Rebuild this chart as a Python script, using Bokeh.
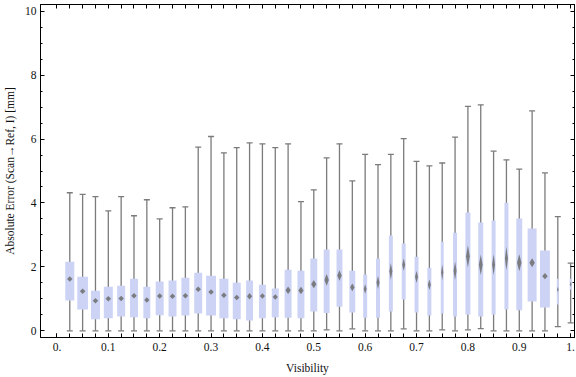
import numpy as np
from bokeh.plotting import figure
from bokeh.models import Range1d, FixedTicker, LinearAxis, ColumnDataSource
from bokeh.embed import file_html
from bokeh.resources import INLINE

# ---------------- data ----------------
visibility = [0.025, 0.05, 0.075, 0.1, 0.125, 0.15, 0.175, 0.2, 0.225, 0.25,
              0.275, 0.3, 0.325, 0.35, 0.375, 0.4, 0.425, 0.45, 0.475, 0.5,
              0.525, 0.55, 0.575, 0.6, 0.625, 0.65, 0.675, 0.7, 0.725, 0.75,
              0.775, 0.8, 0.825, 0.85, 0.875, 0.9, 0.925, 0.95, 0.975, 1.0]
whisker_hi = [4.32, 4.27, 4.20, 3.75, 4.20, 3.60, 4.10, 3.50, 3.85, 3.88,
              5.75, 6.08, 5.57, 5.73, 5.88, 5.85, 5.73, 5.85, 4.04, 4.41,
              5.41, 5.85, 4.69, 5.52, 5.20, 5.52, 6.01, 5.30, 5.16, 5.25,
              6.06, 7.02, 7.07, 5.62, 5.35, 5.06, 6.88, 4.94, 3.57, 2.12]
whisker_lo = [0, 0, 0, 0, 0, 0, 0, 0, 0, 0,
              0, 0, 0, 0, 0, 0, 0, 0, 0, 0,
              0.03, 0, 0.06, 0, 0, 0, 0.06, 0, 0, 0.03,
              0, 0.03, 0.07, 0, 0, 0, 0, 0, 0.13, 0.25]
q3 = [2.16, 1.69, 1.25, 1.38, 1.41, 1.63, 1.38, 1.54, 1.57, 1.66,
      1.82, 1.72, 1.63, 1.50, 1.57, 1.44, 1.32, 1.91, 1.88, 2.26,
      2.54, 2.54, 1.88, 1.76, 2.26, 2.98, 2.73, 2.32, 1.97, 2.79,
      3.07, 3.70, 3.39, 3.45, 4.01, 3.51, 3.20, 2.51, 1.63, 1.63]
q1 = [0.95, 0.67, 0.36, 0.39, 0.45, 0.42, 0.39, 0.49, 0.45, 0.48,
      0.54, 0.48, 0.39, 0.36, 0.32, 0.39, 0.42, 0.41, 0.39, 0.60,
      0.56, 0.75, 0.57, 0.41, 0.41, 0.60, 0.98, 0.57, 0.48, 0.54,
      0.45, 0.51, 0.45, 0.51, 0.67, 0.64, 0.92, 0.73, 0.82, 1.29]
median = [1.62, 1.24, 0.94, 1.00, 1.01, 1.10, 0.96, 1.09, 1.08, 1.10,
          1.30, 1.21, 1.11, 1.04, 1.08, 1.09, 1.06, 1.27, 1.26, 1.46,
          1.59, 1.73, 1.36, 1.31, 1.51, 1.86, 2.07, 1.69, 1.44, 1.83,
          1.88, 2.33, 2.07, 2.07, 2.26, 2.13, 2.13, 1.71, 1.29, 1.46]
# relative box width (fraction of bin spacing), as drawn
box_weight = [0.70, 0.83, 0.70, 0.70, 0.62, 0.62, 0.54, 0.62, 0.62, 0.62,
              0.62, 0.77, 0.70, 0.62, 0.54, 0.54, 0.54, 0.54, 0.54, 0.54,
              0.46, 0.46, 0.46, 0.31, 0.31, 0.31, 0.31, 0.31, 0.31, 0.23,
              0.31, 0.39, 0.39, 0.31, 0.31, 0.46, 0.70, 0.77, 0.15, 0.15]
x_ticks = [0.0, 0.1, 0.2, 0.3, 0.4, 0.5, 0.6, 0.7, 0.8, 0.9, 1.0]
x_tick_overrides = {0.0: "0.", 1.0: "1."}
y_ticks = [0, 2, 4, 6, 8, 10]

# ---------------- layout ----------------
W, H = 576, 377
ML, MR, MT, MB = 37, 2, 4, 40
XR = (-0.032, 1.0075)
YR = (-0.21, 10.21)
px_x = (W - ML - MR) / (XR[1] - XR[0])
px_y = (H - MT - MB) / (YR[1] - YR[0])
spacing = 0.025

FONT = "Liberation Serif"
GRAY = "#7b7b7b"
BOX = "#CCD3F5"

p = figure(width=W, height=H, output_backend="svg", toolbar_location=None,
           x_range=Range1d(*XR), y_range=Range1d(*YR),
           min_border_left=ML, min_border_right=MR, min_border_top=MT,
           min_border_bottom=MB, background_fill_color="white",
           border_fill_color="white")
p.grid.visible = False
p.outline_line_color = "black"
p.outline_line_width = 1

vis = np.array(visibility)
bw = np.array(box_weight) * spacing
src = ColumnDataSource(dict(x=vis, lo=whisker_lo, hi=whisker_hi, q1=q1, q3=q3,
                            med=median, w=bw))

p.segment(x0="x", y0="lo", x1="x", y1="hi", source=src, line_color=GRAY, line_width=1.3)
p.scatter(x="x", y="hi", source=src, marker="dash", size=6, line_color=GRAY, line_width=1.3)
p.scatter(x="x", y="lo", source=src, marker="dash", size=6, line_color=GRAY, line_width=1.3)
p.vbar(x="x", width="w", top="q3", bottom="q1", source=src, fill_color=BOX, line_color=None)

# median diamonds (stretched in narrow boxes)
xs, ys = [], []
for x, m, a, b, w in zip(vis, median, q1, q3, bw):
    wpx = w * px_x
    hbox = (b - a) * px_y
    mw = min(5.5, 0.75 * wpx)
    mh = max(5.5, 0.22 * hbox * min(1.0, 5.0 / wpx))
    dx = mw / 2 / px_x
    dy = mh / 2 / px_y
    xs.append([x - dx, x, x + dx, x])
    ys.append([m, m + dy, m, m - dy])
p.patches(xs, ys, fill_color="#727272", fill_alpha=0.9, line_color=None)

# ---------------- axes ----------------
x_all = [round(i * spacing, 4) for i in range(0, 41)]
y_minor = [i * 0.5 for i in range(0, 21)]


def base(ax):
    ax.axis_line_color = "black"
    ax.axis_line_width = 1
    ax.major_tick_line_color = "black"
    ax.minor_tick_line_color = "black"
    ax.major_tick_out = 0
    ax.minor_tick_out = 0
    ax.major_label_text_font = FONT
    ax.major_label_text_color = "#111111"
    ax.major_label_text_font_size = "11.5px"
    ax.axis_label_text_font = FONT
    ax.axis_label_text_font_style = "normal"
    ax.axis_label_text_color = "#111111"
    ax.axis_label_text_font_size = "11.5px"


xb = p.xaxis[0]
xb.ticker = FixedTicker(ticks=x_ticks, minor_ticks=x_all)
xb.major_label_overrides = x_tick_overrides
xb.axis_label = "Visibility"
base(xb)
xb.major_tick_in = 4
xb.minor_tick_in = 4
xb.major_label_standoff = 5
xb.axis_label_standoff = 8

yl = p.yaxis[0]
yl.ticker = FixedTicker(ticks=y_ticks, minor_ticks=y_minor)
yl.axis_label = "Absolute Error (Scan\u2192Ref, I) [mm]"
base(yl)
yl.major_tick_in = 4
yl.minor_tick_in = 2
yl.major_label_standoff = 4
yl.axis_label_standoff = 6

# top frame ticks (no labels)
xt_top = LinearAxis(ticker=FixedTicker(ticks=[], minor_ticks=x_all))
base(xt_top)
xt_top.major_label_standoff = 0
xt_top.minor_tick_in = 4
p.add_layout(xt_top, "above")

# right frame ticks (no labels): minor ticks first, then major ticks
yr1 = LinearAxis(ticker=FixedTicker(ticks=[], minor_ticks=y_minor))
base(yr1)
yr1.major_label_standoff = 0
yr1.minor_tick_in = 2
p.add_layout(yr1, "right")

yr2 = LinearAxis(ticker=FixedTicker(ticks=[], minor_ticks=y_ticks))
base(yr2)
yr2.major_label_standoff = 0
yr2.minor_tick_in = 4
p.add_layout(yr2, "right")

open("out.html", "w").write(file_html(p, INLINE))
